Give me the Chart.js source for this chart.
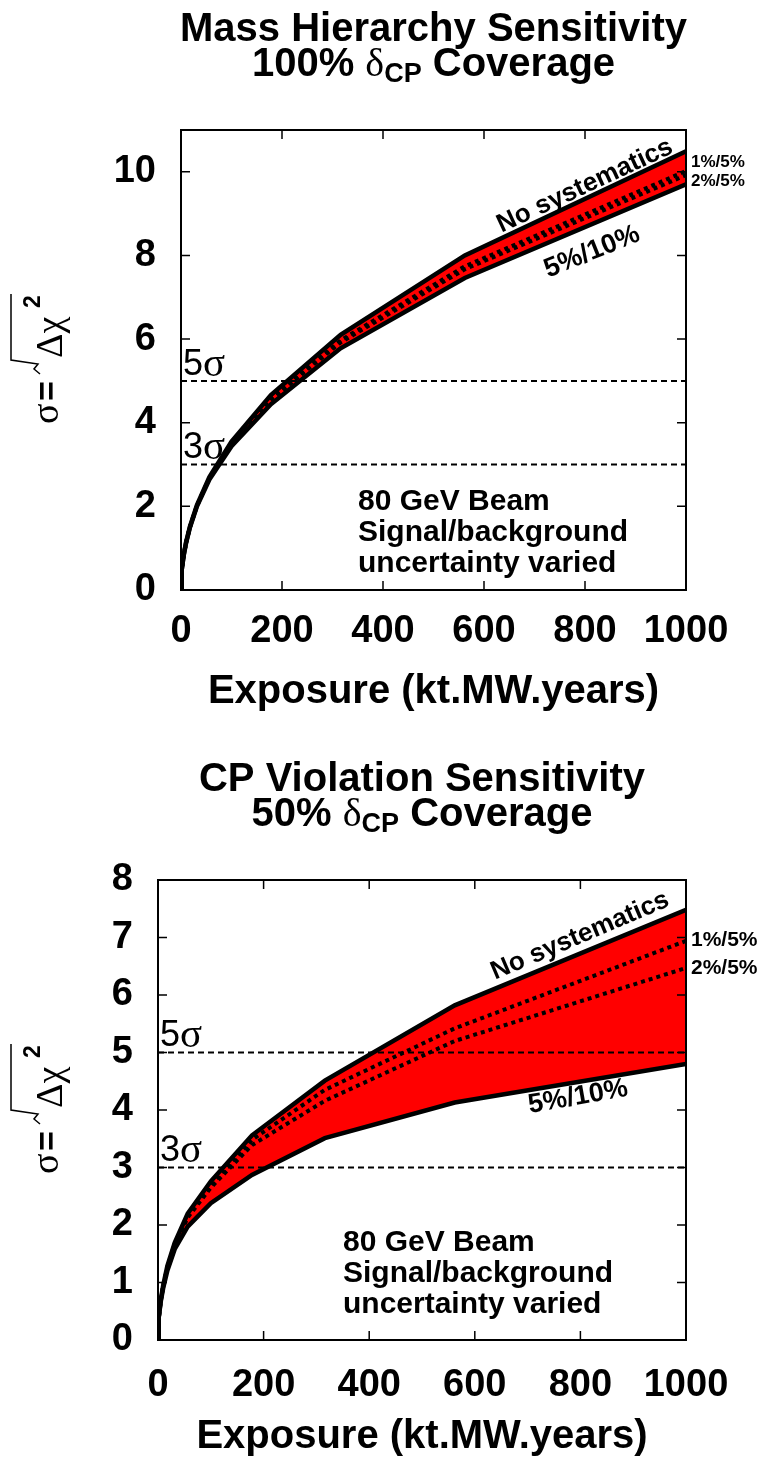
<!DOCTYPE html>
<html>
<head>
<meta charset="utf-8">
<script src="https://cdn.jsdelivr.net/npm/chart.js@4.4.1/dist/chart.umd.min.js"></script>
<style>
  body { margin: 0; background: #fff; }
  .box { position: absolute; left: 0; width: 762px; height: 730px; }
</style>
</head>
<body>
<div class="box" style="top:0"><canvas id="mh" width="762" height="730"></canvas></div>
<div class="box" style="top:730px"><canvas id="cp" width="762" height="730"></canvas></div>
<script>
// exposure points, kt.MW.years
const exposure = [0, 1, 1.78, 3.16, 5.62, 10, 17.8, 31.6, 56.2, 100, 178, 316, 562, 1000];

// mass hierarchy sensitivity (sigma), 100% dCP coverage
const mhNoSyst = [0, 0.36, 0.48, 0.64, 0.85, 1.14, 1.52, 2.03, 2.70, 3.55, 4.66, 6.10, 8.00, 10.49];
const mh1of5   = [0, 0.36, 0.48, 0.64, 0.85, 1.13, 1.51, 2.02, 2.68, 3.52, 4.58, 5.97, 7.74, 10.02];
const mh2of5   = [0, 0.36, 0.48, 0.64, 0.85, 1.13, 1.51, 2.01, 2.67, 3.51, 4.55, 5.92, 7.67, 9.92];
const mh5of10  = [0, 0.36, 0.48, 0.64, 0.85, 1.12, 1.50, 2.00, 2.64, 3.44, 4.44, 5.78, 7.46, 9.70];

// CP violation sensitivity (sigma), 50% dCP coverage
const cpNoSyst = [0, 0.30, 0.40, 0.54, 0.72, 0.96, 1.29, 1.69, 2.20, 2.76, 3.56, 4.51, 5.82, 7.48];
const cp1of5   = [0, 0.30, 0.40, 0.53, 0.71, 0.95, 1.27, 1.67, 2.16, 2.70, 3.48, 4.35, 5.42, 6.94];
const cp2of5   = [0, 0.30, 0.40, 0.53, 0.71, 0.94, 1.26, 1.65, 2.13, 2.65, 3.39, 4.16, 5.20, 6.47];
const cp5of10  = [0, 0.29, 0.39, 0.52, 0.69, 0.91, 1.21, 1.58, 1.97, 2.38, 2.87, 3.51, 4.13, 4.80];

const sigmaLevels = [3, 5];
const xTicks = [0, 200, 400, 600, 800, 1000];
const mhYTicks = [0, 2, 4, 6, 8, 10];
const cpYTicks = [0, 1, 2, 3, 4, 5, 6, 7, 8];

const SANS = '"Liberation Sans", Arial, sans-serif';
const SERIF = '"Liberation Serif", "Times New Roman", serif';

function pts(ys) { return exposure.map((x, i) => ({x: x, y: ys[i]})); }

// runs of text with optional vertical offsets
function runs(ctx, parts, x, y, align, angle) {
  ctx.save();
  ctx.translate(x, y);
  if (angle) ctx.rotate(angle * Math.PI / 180);
  ctx.fillStyle = '#000';
  ctx.textBaseline = 'middle';
  let total = 0;
  parts.forEach(p => { ctx.font = p.f; p.w = ctx.measureText(p.t).width; total += p.w; });
  let cx = align == 'center' ? -total / 2 : (align == 'right' ? -total : 0);
  parts.forEach(p => { ctx.font = p.f; ctx.fillText(p.t, cx, p.dy || 0); cx += p.w; });
  ctx.restore();
}

function sigmaTitle(ctx, cx, cy) {
  ctx.save();
  ctx.translate(cx, cy);
  ctx.rotate(-Math.PI / 2);
  ctx.fillStyle = '#000';
  ctx.strokeStyle = '#000';
  ctx.textBaseline = 'alphabetic';
  ctx.font = '38px ' + SERIF;
  ctx.fillText('\u03c3', -64, 20);
  ctx.font = 'bold 34px ' + SANS;
  ctx.fillText('=', -41, 20);
  // radical
  ctx.lineWidth = 1.5;
  ctx.beginPath();
  ctx.moveTo(-14, 2);
  ctx.lineTo(-9, -4);
  ctx.lineTo(-4, 0);
  ctx.lineTo(0, -27);
  ctx.lineTo(66, -27);
  ctx.stroke();
  ctx.font = '38px ' + SERIF;
  ctx.fillText('\u0394\u03c7', 2, 24);
  ctx.font = 'bold 23px ' + SANS;
  ctx.fillText('2', 52, 2);
  ctx.restore();
}

const frame = {
  id: 'frame',
  afterDatasetsDraw(chart) {
    const ctx = chart.ctx, a = chart.chartArea;
    const xs = chart.scales.x, ys = chart.scales.y;
    ctx.save();
    ctx.strokeStyle = '#000';
    ctx.lineWidth = 1.5;
    xs.ticks.forEach(t => {
      const px = xs.getPixelForValue(t.value);
      ctx.beginPath();
      ctx.moveTo(px, a.bottom); ctx.lineTo(px, a.bottom - 9);
      ctx.moveTo(px, a.top); ctx.lineTo(px, a.top + 9);
      ctx.stroke();
    });
    ys.ticks.forEach(t => {
      const py = ys.getPixelForValue(t.value);
      ctx.beginPath();
      ctx.moveTo(a.left, py); ctx.lineTo(a.left + 9, py);
      ctx.moveTo(a.right, py); ctx.lineTo(a.right - 9, py);
      ctx.stroke();
    });
    ctx.lineWidth = 2;
    ctx.strokeRect(a.left, a.top, a.right - a.left, a.bottom - a.top);
    ctx.restore();
  }
};

const notes = {
  id: 'notes',
  afterDraw(chart) {
    const ctx = chart.ctx;
    const o = chart.options.plugins.notes;
    const a = chart.chartArea;
    const B = 'bold ';
    const mid = (a.left + a.right) / 2;
    runs(ctx, [{t: o.title1, f: B + '40px ' + SANS}], mid, o.ty, 'center');
    runs(ctx, [
      {t: o.cov + ' ', f: B + '40px ' + SANS},
      {t: '\u03b4', f: '40px ' + SERIF},
      {t: 'CP', f: B + '27px ' + SANS, dy: 10},
      {t: ' Coverage', f: B + '40px ' + SANS}
    ], mid, o.ty + 35, 'center');
    sigmaTitle(ctx, 38, (a.top + a.bottom) / 2);
    runs(ctx, [{t: 'Exposure (kt.MW.years)', f: B + '40px ' + SANS}], mid, o.xt, 'center');
    const ys = chart.scales.y;
    sigmaLevels.forEach(s => {
      runs(ctx, [{t: String(s), f: '36px ' + SANS}, {t: '\u03c3', f: '41px ' + SERIF}],
        a.left + 2, ys.getPixelForValue(s) - 16, 'left');
    });
    runs(ctx, [{t: 'No systematics', f: B + '26px ' + SANS}], o.ns[0], o.ns[1], 'center', o.ns[2]);
    runs(ctx, [{t: '5%/10%', f: B + '27px ' + SANS}], o.lo[0], o.lo[1], 'center', o.lo[2]);
    runs(ctx, [{t: '1%/5%', f: B + o.sf + 'px ' + SANS}], a.right + 5, o.s1, 'left');
    runs(ctx, [{t: '2%/5%', f: B + o.sf + 'px ' + SANS}], a.right + 5, o.s2, 'left');
    ['80 GeV Beam', 'Signal/background', 'uncertainty varied'].forEach((t, i) => {
      runs(ctx, [{t: t, f: B + '30px ' + SANS}], o.bx, o.by + i * 31, 'left');
    });
  }
};

function makeChart(id, series, ymax, yTicks, pad, xh, xpad, yw, o) {
  const sigmaSets = sigmaLevels.map(s => ({
    data: [{x: 0, y: s}, {x: 1000, y: s}],
    borderColor: '#000', borderWidth: 2, borderDash: [6, 4], pointRadius: 0, fill: false
  }));
  return new Chart(document.getElementById(id), {
    type: 'line',
    data: {
      datasets: [
        {label: 'No systematics', data: pts(series[0]), borderColor: '#000', borderWidth: 4.5,
         backgroundColor: '#ff0000', fill: '+3', pointRadius: 0},
        {label: '1%/5%', data: pts(series[1]), borderColor: '#000', borderWidth: 4,
         borderDash: [4, 4], pointRadius: 0, fill: false},
        {label: '2%/5%', data: pts(series[2]), borderColor: '#000', borderWidth: 4,
         borderDash: [4, 4], pointRadius: 0, fill: false},
        {label: '5%/10%', data: pts(series[3]), borderColor: '#000', borderWidth: 4.5,
         pointRadius: 0, fill: false}
      ].concat(sigmaSets)
    },
    options: {
      responsive: false,
      animation: false,
      layout: {padding: {top: pad, right: 76, left: 0, bottom: 0}},
      plugins: {
        legend: {display: false},
        tooltip: {enabled: false},
        filler: {drawTime: 'beforeDatasetsDraw'},
        notes: o
      },
      scales: {
        x: {
          type: 'linear', min: 0, max: 1000,
          afterBuildTicks: s => { s.ticks = xTicks.map(v => ({value: v})); },
          afterFit: s => { s.height = xh; },
          grid: {display: false}, border: {display: false},
          ticks: {color: '#000', padding: xpad, maxRotation: 0, callback: v => String(v),
                  font: {family: SANS, size: 38, weight: 'bold'}}
        },
        y: {
          min: 0, max: ymax,
          afterBuildTicks: s => { s.ticks = yTicks.map(v => ({value: v})); },
          afterFit: s => { s.width = yw; },
          grid: {display: false}, border: {display: false},
          ticks: {color: '#000', padding: 17, font: {family: SANS, size: 38, weight: 'bold'}}
        }
      }
    },
    plugins: [frame, notes]
  });
}

makeChart('mh', [mhNoSyst, mh1of5, mh2of5, mh5of10], 11, mhYTicks, 130, 140, 11, 181, {
  title1: 'Mass Hierarchy Sensitivity', cov: '100%', ty: 30, xt: 692,
  ns: [585, 186, -25], lo: [592, 252, -22], s1: 162, s2: 181, sf: 17, bx: 358, by: 502
});
makeChart('cp', [cpNoSyst, cp1of5, cp2of5, cp5of10], 8, cpYTicks, 150, 120, 15, 158, {
  title1: 'CP Violation Sensitivity', cov: '50%', ty: 50, xt: 707,
  ns: [580, 206, -23], lo: [578, 367, -10], s1: 210, s2: 238, sf: 21, bx: 343, by: 513
});
</script>
</body>
</html>
